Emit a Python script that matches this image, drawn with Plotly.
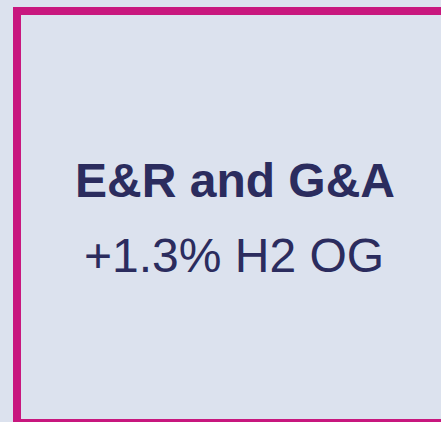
import plotly.graph_objects as go

title_lines = ["E&R and G&A"]
value_lines = ["+1.3% H2 OG"]

BG = "#DCE2EE"
BORDER = "#C8177E"
TEXT = "#2B2C5E"

fig = go.Figure()
fig.update_layout(
    width=441, height=422,
    margin=dict(l=0, r=0, t=0, b=0),
    paper_bgcolor=BG, plot_bgcolor=BG,
    showlegend=False,
    xaxis=dict(range=[0, 441], visible=False, fixedrange=True),
    yaxis=dict(range=[422, 0], visible=False, fixedrange=True),
)
fig.add_shape(type="rect", x0=17, x1=470, y0=11, y1=423,
              line=dict(color=BORDER, width=8), fillcolor=BG, layer="below")

fig.add_annotation(x=235, y=180, text="<b>" + title_lines[0] + "</b>", showarrow=False,
                   xanchor="center", yanchor="middle",
                   font=dict(family="Liberation Sans, Arial", size=48, color=TEXT))
fig.add_annotation(x=234, y=255, text=value_lines[0], showarrow=False,
                   xanchor="center", yanchor="middle",
                   font=dict(family="Liberation Sans, Arial", size=48, color=TEXT))

fig.write_html("out.html", config={"displayModeBar": False},
               post_script="document.body.style.margin='0px';document.body.style.overflow='hidden';document.documentElement.style.overflow='hidden';")
